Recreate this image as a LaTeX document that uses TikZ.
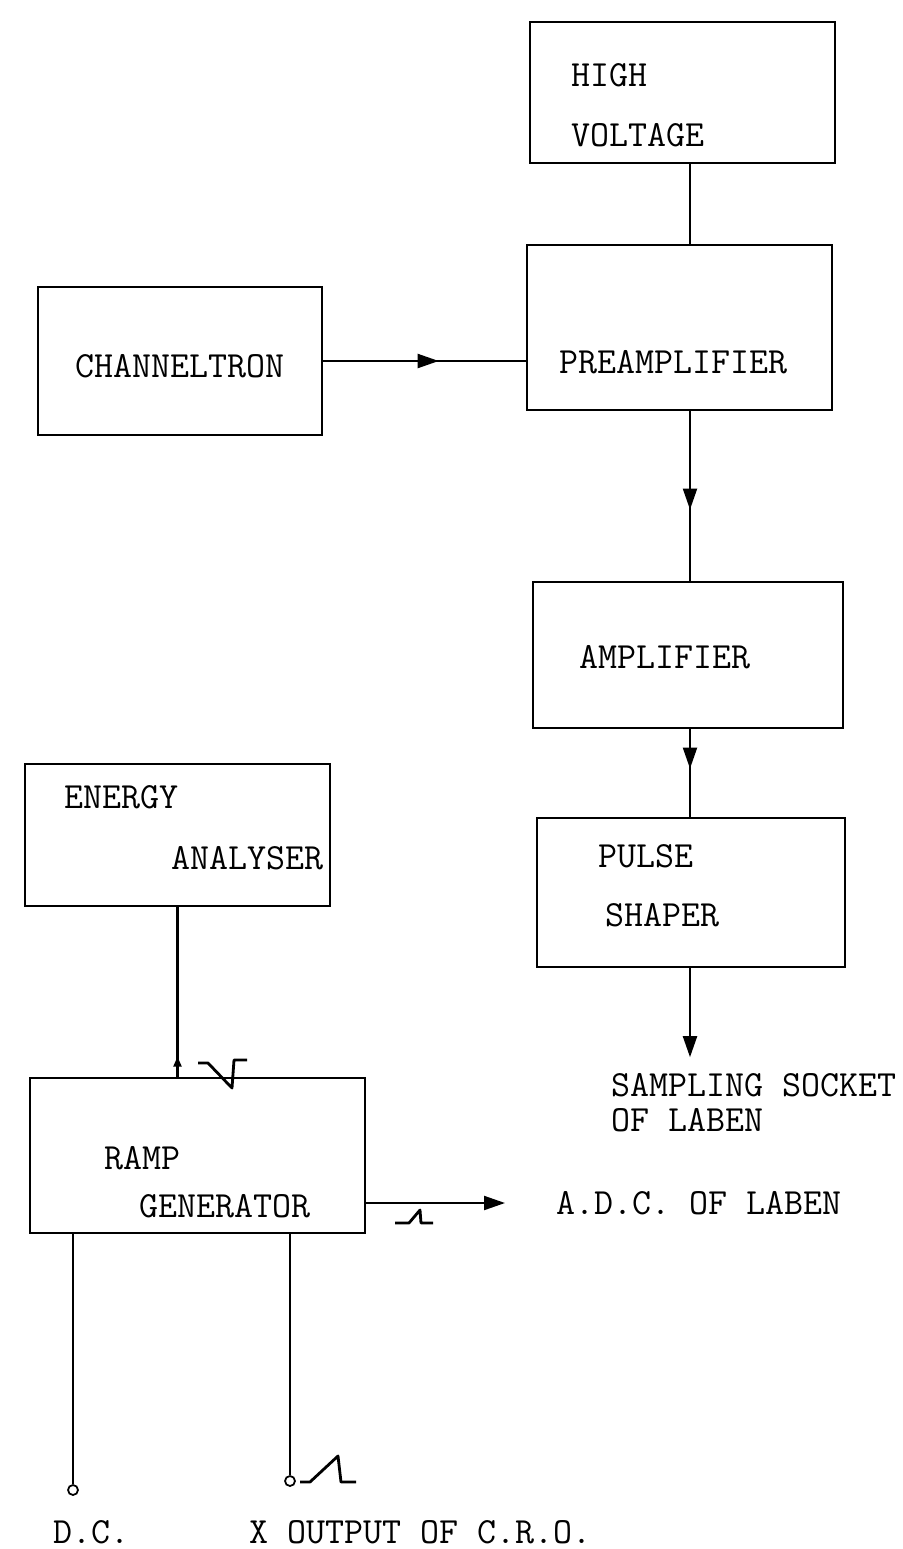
\documentclass[tikz,border=0pt]{standalone}
\usepackage{fontspec}
\usepackage{tikz}
\usetikzlibrary{arrows.meta, decorations.markings, calc}

\begin{document}
\begin{tikzpicture}[x=0.02cm, y=-0.02cm, line width=1.2pt,
  blk/.style={draw, inner sep=0pt},
  lbl/.style={font=\ttfamily\fontsize{21}{24}\selectfont, inner sep=0pt, anchor=west},
  endtip/.style={-{Triangle[length=0.42cm, width=0.28cm]}},
  midtip/.style={postaction={decorate}, decoration={markings,
    mark=at position #1 with {\arrow{Triangle[length=0.42cm, width=0.28cm]}}}},
  smalltip/.style={postaction={decorate}, decoration={markings,
    mark=at position #1 with {\arrow{Triangle[length=0.2cm, width=0.16cm]}}}},
  term/.style={circle, draw, line width=1pt, minimum size=0.2cm, inner sep=0pt},
  wave/.style={line width=1.6pt, line join=round}]
  \useasboundingbox (0,0) rectangle (903,1549);

  \node[blk, minimum width=6.1cm, minimum height=2.82cm] (hv) at (682.5,92.5) {};
  \node[lbl] (hv-a) at (570,75) {HIGH};
  \node[lbl] (hv-b) at (570,135) {VOLTAGE};

  \node[blk, minimum width=5.68cm, minimum height=2.96cm] (ch) at (180,361) {};
  \node[lbl, anchor=center] (ch-a) at (180,366) {CHANNELTRON};

  \node[blk, minimum width=6.1cm, minimum height=3.3cm] (pre) at (679.5,327.5) {};
  \node[lbl] (pre-a) at (558,362) {PREAMPLIFIER};

  \node[blk, minimum width=6.2cm, minimum height=2.92cm] (amp) at (688,655) {};
  \node[lbl] (amp-a) at (578,657) {AMPLIFIER};

  \node[blk, minimum width=6.16cm, minimum height=2.98cm] (ps) at (691,892.5) {};
  \node[lbl] (ps-a) at (597,856) {PULSE};
  \node[lbl] (ps-b) at (604,915) {SHAPER};

  \node[blk, minimum width=6.1cm, minimum height=2.84cm] (ea) at (177.5,835) {};
  \node[lbl] (ea-a) at (63,797) {ENERGY};
  \node[lbl] (ea-b) at (170,858) {ANALYSER};

  \node[blk, minimum width=6.7cm, minimum height=3.1cm] (rg) at (197.5,1155.5) {};
  \node[lbl] (rg-a) at (103,1158) {RAMP};
  \node[lbl] (rg-b) at (138,1206) {GENERATOR};

  \node[lbl] (samp-a) at (610,1085) {SAMPLING SOCKET};
  \node[lbl] (samp-b) at (610,1120) {OF LABEN};
  \node[lbl] (adc) at (555,1203) {A.D.C. OF LABEN};
  \node[lbl] (dc) at (52,1532) {D.C.};
  \node[lbl] (xo) at (248,1532) {X OUTPUT OF C.R.O.};
  \node[term] (dc-t) at (73,1490) {};
  \node[term] (xo-t) at (290,1481) {};
  \coordinate (spine) at (690,0);

  \draw (hv.south -| spine) -- (pre.north -| spine);
  \draw[midtip=0.57] (ch.east) -- (ch.east -| pre.west);
  \draw[midtip=0.58] (pre.south -| spine) -- (amp.north -| spine);
  \draw[midtip=0.45] (amp.south -| spine) -- (ps.north -| spine);
  \draw[endtip, shorten >=0.3cm] (ps.south -| spine) -- (samp-a.north -| spine);
  \draw[endtip, shorten >=1cm] (adc.west -| rg.east) -- (adc.west);
  \draw[smalltip=0.12] (rg.north -| ea.south) -- (ea.south);
  \draw (rg.south -| dc-t) -- (dc-t);
  \draw (rg.south -| xo-t) -- (xo-t);

  \draw[wave] (198,1063) -- (208,1063) -- (232,1088) -- (234,1060) -- (247,1060);
  \draw[wave] (395,1223) -- (409,1223) -- (420,1210) -- (421,1223) -- (433,1223);
  \draw[wave] (300,1482) -- (310,1482) -- (338,1456) -- (341,1482) -- (356,1482);
\end{tikzpicture}
\end{document}
